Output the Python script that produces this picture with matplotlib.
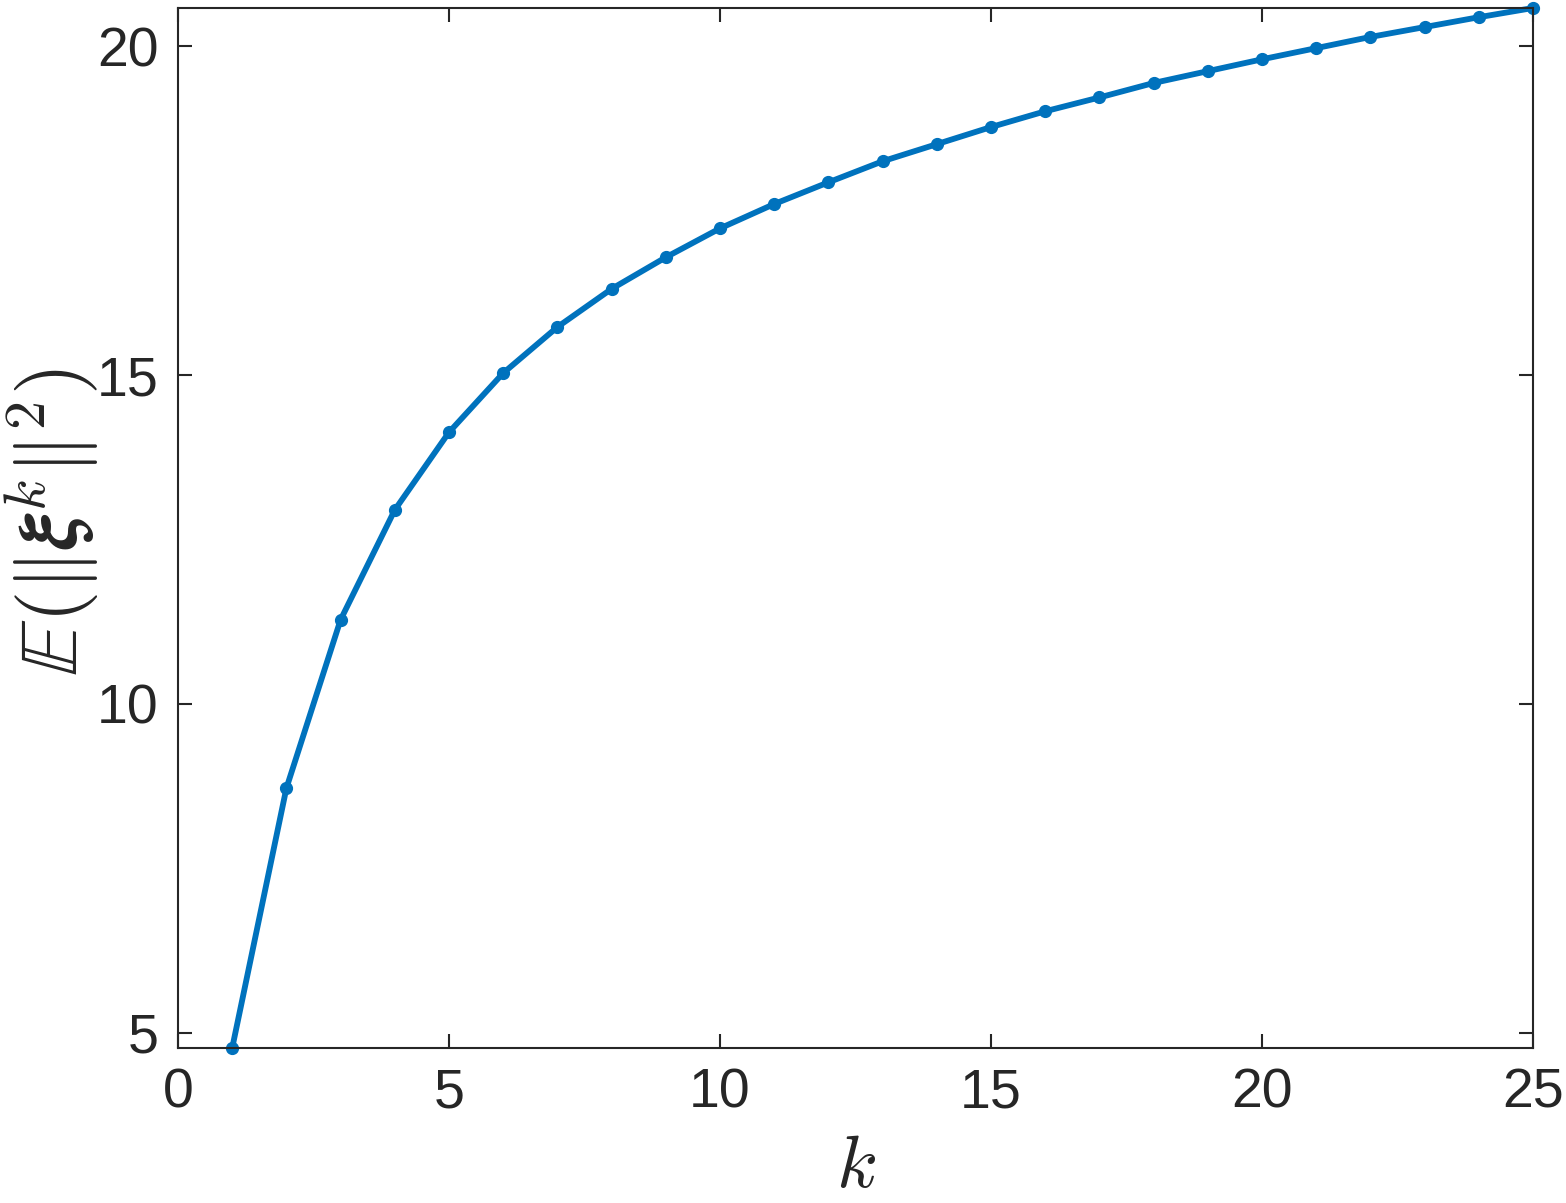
import matplotlib
matplotlib.use('Agg')
import matplotlib.pyplot as plt

# 데이터
k = list(range(1, 26))
e_xi = [4.77, 8.72, 11.28, 12.95, 14.13, 15.03, 15.73, 16.31, 16.79, 17.23,
        17.60, 17.93, 18.25, 18.51, 18.77, 19.01, 19.22, 19.44, 19.62, 19.80,
        19.97, 20.14, 20.29, 20.44, 20.58]
xticks = [0, 5, 10, 15, 20, 25]
yticks = [5, 10, 15, 20]

plt.rcParams['font.family'] = ['Liberation Sans', 'DejaVu Sans']
plt.rcParams['mathtext.fontset'] = 'cm'

fig = plt.figure(figsize=(15.66, 12.03), dpi=100)
ax = fig.add_axes([178 / 1566, 1 - 1048 / 1203, (1533 - 178) / 1566, (1048 - 8) / 1203])

ax.plot(k, e_xi, '-o', color='#0072BD', linewidth=4.2, markersize=8.5, clip_on=False)

ax.set_xlim(0, 25)
ax.set_ylim(4.77, 20.58)
ax.set_xticks(xticks)
ax.set_yticks(yticks)

axis_color = '#262626'
for s in ax.spines.values():
    s.set_color(axis_color)
    s.set_linewidth(1.5)
ax.tick_params(direction='in', length=10, width=1.5, colors=axis_color,
               labelsize=40, top=True, right=True, pad=14)

ax.set_xlabel(r'$k$', fontsize=54, color=axis_color, labelpad=10)
ax.set_ylabel(r'$\mathbb{E}(\|\boldsymbol{\xi}^k\|^2)$', fontsize=60, color=axis_color)
ax.yaxis.set_label_coords(-0.057, 0.505)

fig.savefig('out.png', dpi=100)
